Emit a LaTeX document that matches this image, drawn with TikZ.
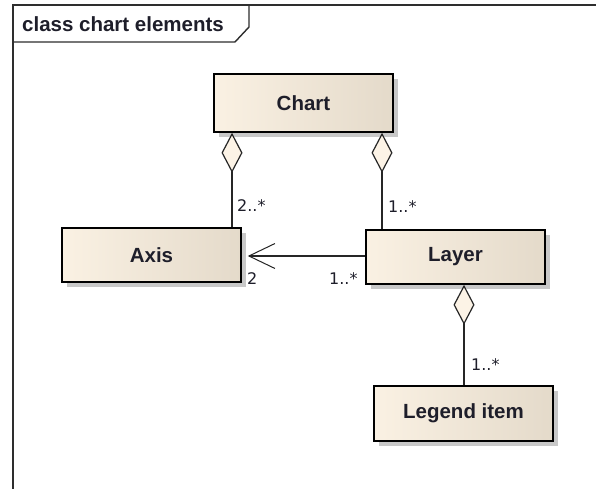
\documentclass[tikz,border=0pt]{standalone}
\usepackage{fontspec}
\setmainfont{Liberation Sans}
\newfontfamily\labelfont{DejaVu Sans}
\usetikzlibrary{arrows.meta,shadows}
\definecolor{boxleft}{HTML}{FAF1E3}
\definecolor{boxright}{HTML}{E4DACA}
\definecolor{diafill}{HTML}{FCF3E6}
\definecolor{shadowgray}{HTML}{C8C8C8}
\definecolor{txt}{HTML}{1E1E2A}
\definecolor{framecol}{HTML}{2E2E2E}
\tikzset{
  classbox/.style={draw=black, line width=1.6pt, rectangle, minimum width=179pt,
    left color=boxleft, right color=boxright, text=txt,
    font=\fontsize{20.5}{23}\selectfont\bfseries,
    drop shadow={shadow xshift=5pt, shadow yshift=-5pt, fill=shadowgray, opacity=1}},
  mult/.style={anchor=west, inner sep=0pt, text=txt, font=\labelfont\fontsize{16}{19}\selectfont},
  agg/.style={draw=black!85, line width=1.4pt,
    {Diamond[length=40pt, width=21pt, fill=diafill, line width=1.2pt]}-},
  nav/.style={draw=black!85, line width=1.4pt,
    -{Straight Barb[length=26pt, width=25pt, line width=1pt]}},
}
\begin{document}
\begin{tikzpicture}[x=1pt, y=-1pt]
\useasboundingbox (0,0) rectangle (596,489);
\fill[white] (0,0) rectangle (596,489);
% frame
\draw[framecol, line width=1.4pt] (13,489) -- (13,5) -- (596,5);
\draw[framecol, line width=1.4pt] (13,42) -- (235,42) -- (249,27) -- (249,5);
\node[anchor=west, inner sep=0pt, text=txt, font=\fontsize{20.5}{23}\selectfont\bfseries] (title) at (22,24) {class chart elements};
% classes
\node[classbox, minimum height=58pt] (chart) at (303.5,103) {Chart};
\node[classbox, minimum height=54pt] (axis) at (151.5,255) {Axis};
\node[classbox, minimum height=54pt] (layer) at (455.5,257) {Layer};
\node[classbox, minimum height=55pt] (legend) at (463.5,413.5) {Legend item};
% connectors
\draw[agg] ([xshift=-71.5pt]chart.south) -- ([xshift=80.5pt]axis.north);
\draw[agg] ([xshift=78.5pt]chart.south) -- ([xshift=-73.5pt]layer.north);
\draw[agg] ([xshift=8.5pt]layer.south) -- ([xshift=0.5pt]legend.north);
\coordinate (tip) at ([xshift=6pt,yshift=-1pt]axis.east);
\draw[nav] (tip -| layer.west) -- (tip);
% multiplicities
\node[mult] (m1) at (237,206) {2..*};
\node[mult] (m2) at (388,207) {1..*};
\node[mult] (m3) at (247,279) {2};
\node[mult] (m4) at (329,279) {1..*};
\node[mult] (m5) at (471,365) {1..*};
\end{tikzpicture}
\end{document}
